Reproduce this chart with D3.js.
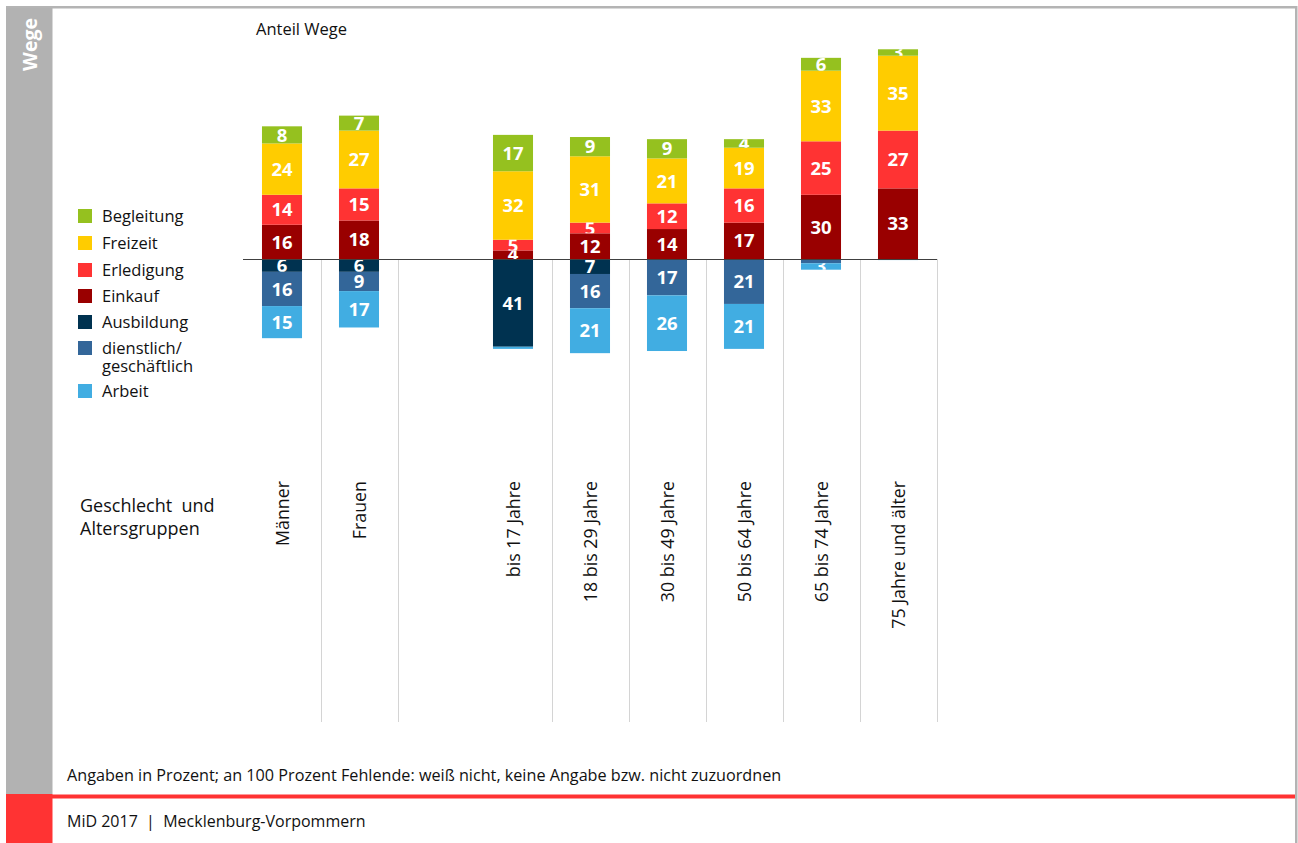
<!DOCTYPE html>
<html lang="de">
<head>
<meta charset="utf-8">
<script src="https://cdn.jsdelivr.net/npm/d3@7"></script>
<style>
  html, body { margin: 0; padding: 0; background: #fff; }
  svg { display: block; font-family: "Open Sans", "Noto Sans", sans-serif; }
</style>
</head>
<body>
<svg id="chart" width="1298" height="843"></svg>
<script>
// Kategorien (leerer Platzhalter trennt Geschlecht von Altersgruppen)
const categories = ["Männer", "Frauen", "", "bis 17 Jahre", "18 bis 29 Jahre", "30 bis 49 Jahre",
                    "50 bis 64 Jahre", "65 bis 74 Jahre", "75 Jahre und älter"];

// Wegezwecke oberhalb der Nulllinie (von unten nach oben)
const upperKeys = ["Einkauf", "Erledigung", "Freizeit", "Begleitung"];
// Wegezwecke unterhalb der Nulllinie (von oben nach unten)
const lowerKeys = ["Ausbildung", "dienstlich/geschäftlich", "Arbeit"];

// Anteil Wege in Prozent je Kategorie
const begleitung = [8, 7, null, 17, 9, 9, 4, 6, 3];
const freizeit   = [24, 27, null, 32, 31, 21, 19, 33, 35];
const erledigung = [14, 15, null, 5, 5, 12, 16, 25, 27];
const einkauf    = [16, 18, null, 4, 12, 14, 17, 30, 33];
const ausbildung = [6, 6, null, 41, 7, 0, 0, 0, 0];
const dienstlich = [16, 9, null, 0, 16, 17, 21, 2, 0];
const arbeit     = [15, 17, null, 1, 21, 26, 21, 3, 0.5];

const seriesValues = {
  "Begleitung": begleitung,
  "Freizeit": freizeit,
  "Erledigung": erledigung,
  "Einkauf": einkauf,
  "Ausbildung": ausbildung,
  "dienstlich/geschäftlich": dienstlich,
  "Arbeit": arbeit
};

const colors = {
  "Begleitung": "#95c11f",
  "Freizeit": "#ffcc00",
  "Erledigung": "#ff3333",
  "Einkauf": "#990000",
  "Ausbildung": "#003250",
  "dienstlich/geschäftlich": "#336699",
  "Arbeit": "#41ade2"
};

const legendItems = [
  ["Begleitung", ["Begleitung"]],
  ["Freizeit", ["Freizeit"]],
  ["Erledigung", ["Erledigung"]],
  ["Einkauf", ["Einkauf"]],
  ["Ausbildung", ["Ausbildung"]],
  ["dienstlich/geschäftlich", ["dienstlich/", "geschäftlich"]],
  ["Arbeit", ["Arbeit"]]
];

const svg = d3.select("#chart");

// ---------- Rahmen ----------
svg.append("rect").attr("x", 6).attr("y", 6).attr("width", 1291).attr("height", 2.5).attr("fill", "#b4b4b4");
svg.append("rect").attr("x", 1295).attr("y", 6).attr("width", 2.5).attr("height", 837).attr("fill", "#b4b4b4");
svg.append("rect").attr("x", 6).attr("y", 8).attr("width", 46.5).attr("height", 786).attr("fill", "#b2b2b2");
svg.append("rect").attr("x", 6).attr("y", 794).attr("width", 46.5).attr("height", 49).attr("fill", "#ff3333");
svg.append("rect").attr("x", 52).attr("y", 794.5).attr("width", 1243).attr("height", 4).attr("fill", "#ff3333");

svg.append("text")
  .attr("transform", "translate(37,18) rotate(-90)")
  .attr("text-anchor", "end")
  .attr("fill", "#fff")
  .attr("font-weight", "bold")
  .attr("font-size", 19.5)
  .text("Wege");

// ---------- Skalen ----------
const x = d3.scaleBand()
  .domain(d3.range(categories.length))
  .range([243.5, 936.5])
  .paddingInner(0.48)
  .paddingOuter(0.24);

const y = d3.scaleLinear().domain([-100, 100]).range([473, 45]);

// ---------- Trennlinien ----------
const sepGroup = svg.append("g");
categories.forEach((c, i) => {
  if (!c) return;
  const xr = Math.round(x(i) + x.bandwidth() + x.step() * x.paddingInner() / 2) + 0.5;
  sepGroup.append("line")
    .attr("x1", xr).attr("x2", xr)
    .attr("y1", y(0)).attr("y2", 722)
    .attr("stroke", "#d4d4d4").attr("stroke-width", 1);
});

// ---------- Stapel ----------
const rows = categories.map((c, i) => {
  const r = { idx: i };
  upperKeys.forEach(k => r[k] = seriesValues[k][i] || 0);
  lowerKeys.forEach(k => r[k] = -(seriesValues[k][i] || 0));
  return r;
}).filter(r => categories[r.idx]);

const stack = d3.stack()
  .keys([...lowerKeys, ...upperKeys])
  .offset(d3.stackOffsetDiverging);
const stacked = stack(rows);

const defs = svg.append("defs");
const barGroup = svg.append("g");
const labelGroup = svg.append("g");
let clipId = 0;

stacked.forEach(layer => {
  const key = layer.key;
  layer.forEach(d => {
    const v = Math.abs(d[1] - d[0]);
    if (v <= 0) return;
    const x0 = x(d.data.idx);
    const yTop = y(Math.max(d[0], d[1]));
    const yBot = y(Math.min(d[0], d[1]));
    barGroup.append("rect")
      .attr("x", x0).attr("width", x.bandwidth())
      .attr("y", yTop).attr("height", yBot - yTop)
      .attr("fill", colors[key]);
    if (v >= 3) {
      // Beschriftung wird auf das eigene Segment beschnitten
      const id = "seg" + (clipId++);
      defs.append("clipPath").attr("id", id)
        .append("rect")
        .attr("x", x0 - 5).attr("width", x.bandwidth() + 10)
        .attr("y", yTop).attr("height", yBot - yTop);
      labelGroup.append("text")
        .attr("clip-path", `url(#${id})`)
        .attr("x", x0 + x.bandwidth() / 2)
        .attr("y", (yTop + yBot) / 2)
        .attr("dy", "0.36em")
        .attr("text-anchor", "middle")
        .attr("fill", "#fff")
        .attr("font-weight", "bold")
        .attr("font-size", 18.5)
        .text(d3.format("d")(v));
    }
  });
});

// Nulllinie
svg.append("line")
  .attr("x1", 243).attr("x2", 937)
  .attr("y1", y(0) + 0.5).attr("y2", y(0) + 0.5)
  .attr("stroke", "#404040").attr("stroke-width", 1.2);

// ---------- Kategorienbeschriftung ----------
categories.forEach((c, i) => {
  if (!c) return;
  svg.append("text")
    .attr("transform", `translate(${x(i) + x.bandwidth() / 2 + 6.5},481) rotate(-90)`)
    .attr("text-anchor", "end")
    .attr("fill", "#111")
    .attr("font-size", 17.8)
    .text(c);
});

svg.append("text").attr("x", 80).attr("y", 512).attr("font-size", 18).attr("fill", "#111")
  .attr("xml:space", "preserve").text("Geschlecht  und");
svg.append("text").attr("x", 80).attr("y", 535).attr("font-size", 18).attr("fill", "#111")
  .text("Altersgruppen");

// ---------- Legende ----------
const legY = [216, 243, 270, 296, 322, 348, 391];
legendItems.forEach(([key, lines], i) => {
  svg.append("rect")
    .attr("x", 78).attr("y", legY[i] - 7).attr("width", 14).attr("height", 14)
    .attr("fill", colors[key]);
  lines.forEach((t, j) => {
    svg.append("text")
      .attr("x", 102).attr("y", legY[i] + j * 18)
      .attr("dy", "0.35em")
      .attr("font-size", 16.5).attr("fill", "#111")
      .text(t);
  });
});

// ---------- Texte ----------
svg.append("text").attr("x", 256).attr("y", 35).attr("font-size", 16.5).attr("fill", "#111")
  .text("Anteil Wege");

svg.append("text").attr("x", 67).attr("y", 781).attr("font-size", 16.2).attr("fill", "#111")
  .text("Angaben in Prozent; an 100 Prozent Fehlende: weiß nicht, keine Angabe bzw. nicht zuzuordnen");

svg.append("text").attr("x", 67).attr("y", 827).attr("font-size", 16).attr("fill", "#111")
  .attr("xml:space", "preserve")
  .text("MiD 2017  |  Mecklenburg-Vorpommern");
</script>
</body>
</html>
